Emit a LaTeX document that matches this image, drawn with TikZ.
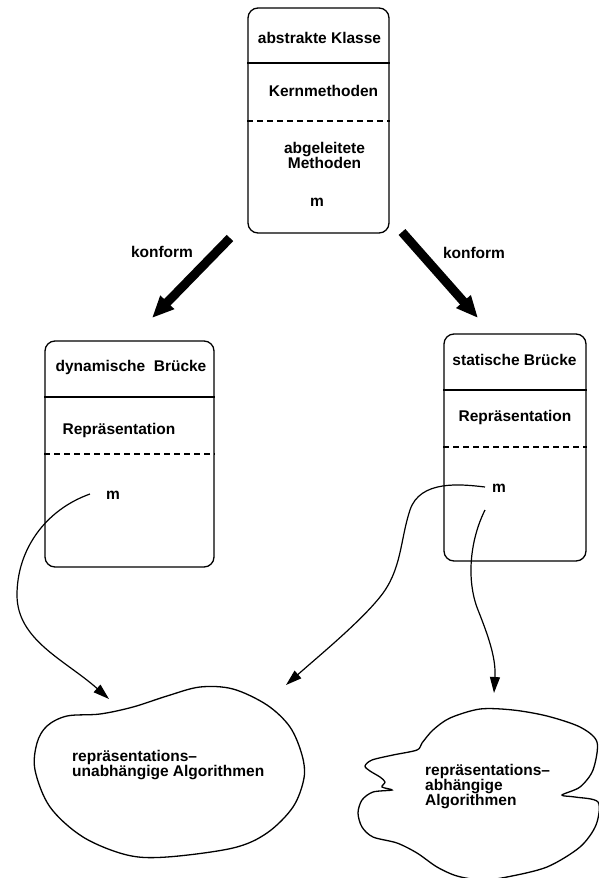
\documentclass[tikz,border=0pt]{standalone}
\usepackage{fontspec}
\setmainfont{Liberation Sans}
\usetikzlibrary{arrows.meta}
\begin{document}
\begin{tikzpicture}[x=1pt,y=-1pt,
 lbl/.style={font=\fontsize{15.5}{15}\selectfont\bfseries, inner sep=0pt},
 cls/.style={draw, line width=1.3pt, rounded corners=10pt, inner sep=0pt},
 sepline/.style={line width=1.2pt},
 dashline/.style={line width=1.2pt, dash pattern=on 6pt off 4pt},
 conform/.style={line width=9pt, -{Triangle[length=22pt,width=18pt]}},
 conn/.style={line width=1.2pt, -{Triangle[length=16pt,width=10pt]}},
 blob/.style={line width=1.3pt}]
\useasboundingbox (0,0) rectangle (599,878);

% class boxes
\node[cls, minimum width=141pt, minimum height=225pt] (top) at (318.5,120.5) {};
\node[cls, minimum width=169pt, minimum height=226pt] (dyn) at (129.5,454) {};
\node[cls, minimum width=142pt, minimum height=227pt] (sta) at (515,447.5) {};

\draw[sepline] (top.west |- 0,63) -- (top.east |- 0,63);
\draw[dashline] (top.west |- 0,121) -- (top.east |- 0,121);
\draw[sepline] (dyn.west |- 0,397) -- (dyn.east |- 0,397);
\draw[dashline] (dyn.west |- 0,454) -- (dyn.east |- 0,454);
\draw[sepline] (sta.west |- 0,390) -- (sta.east |- 0,390);
\draw[dashline] (sta.west |- 0,447) -- (sta.east |- 0,447);

% texts
\node[lbl] (tTitle) at (319.5,38) {abstrakte Klasse};
\node[lbl] (tKern) at (323.5,91) {Kernmethoden};
\node[lbl, align=center] (tAbg) at (324.5,155) {abgeleitete\\Methoden};
\node[lbl] (mTop) at (317,202) {m};

\node[lbl] (dTitle) at (131,367) {dynamische\ \ Brücke};
\node[lbl] (dRep) at (119,430) {Repräsentation};
\node[lbl] (mDyn) at (113,495) {m};

\node[lbl] (sTitle) at (514.5,360) {statische Brücke};
\node[lbl] (sRep) at (515,417) {Repräsentation};
\node[lbl] (mSta) at (499,488) {m};

% konform arrows
\coordinate (k1s) at (230,238);
\coordinate (k1e) at (152,318);
\coordinate (k2s) at (402,232);
\coordinate (k2e) at (478,318);
\draw[conform] (k1s) -- (k1e);
\draw[conform] (k2s) -- (k2e);
\node[lbl] (kon1) at (162,252) {konform};
\node[lbl] (kon2) at (474,253) {konform};

% blobs
\draw[blob] plot[smooth cycle, tension=0.55] coordinates {
 (67,716) (100,714) (133,707) (167,696) (200,687) (233,689) (267,705) (290,727)
 (302,755) (304,778) (293,807) (267,833) (233,848) (167,857) (127,855) (83,837)
 (50,807) (35,770) (37,743) (47,726)};
\node[lbl, align=left, anchor=west] (algU) at (72,765) {repräsentations–\\unabhängige Algorithmen};

\draw[blob] plot[smooth cycle, tension=0.5] coordinates {
 (422,743) (433,730) (450,718) (480,709) (513,710) (547,716) (580,727) (597,742)
 (593,770) (580,787) (562,795) (575,797) (598,802) (596,825) (580,847) (547,867)
 (507,877) (482,880) (457,876) (437,867) (417,853) (397,843) (373,837) (362,827)
 (358,813) (362,800) (373,792) (392,790) (382,787) (385,782) (380,777) (370,771)
 (365,766) (372,760) (393,755) (417,750)};
\node[lbl, align=left, anchor=west, font=\fontsize{15.5}{13.5}\selectfont\bfseries] (algA) at (425,786.5) {repräsentations–\\abhängige\\Algorithmen};

% connectors from m
\coordinate (c1s) at (90,494);
\coordinate (t1) at (109,699);
\coordinate (c2s) at (485,487);
\coordinate (t2) at (286,685);
\coordinate (c3s) at (485,510);
\coordinate (t3) at (494,693);
\draw[conn] (c1s) .. controls (45,510) and (17,550) .. (17,595) .. controls (17,640) and (65,660) .. (t1);
\draw[conn] (c2s) .. controls (460,484) and (420,480) .. (410,510) .. controls (400,540) and (402,570) .. (380,597) .. controls (360,622) and (320,655) .. (t2);
\draw[conn] (c3s) .. controls (470,540) and (466,580) .. (478,610) .. controls (490,640) and (496,660) .. (t3);
\end{tikzpicture}
\end{document}
